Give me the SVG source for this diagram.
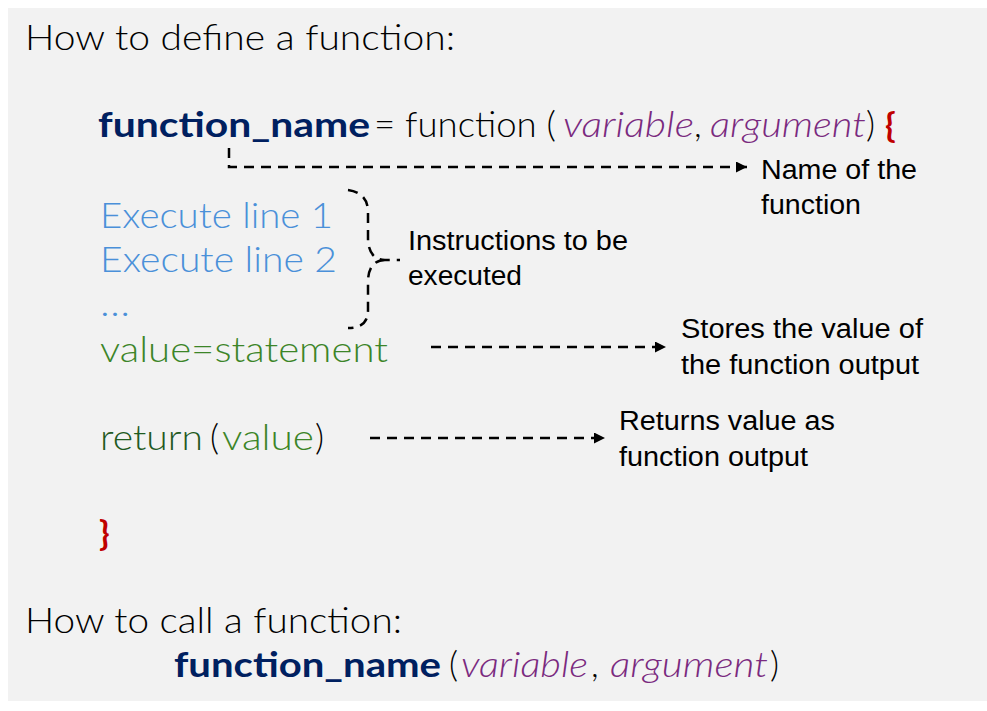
<svg xmlns="http://www.w3.org/2000/svg" width="987" height="711" viewBox="0 0 987 711">
<defs>
<marker id="arr" viewBox="0 0 10 10" refX="10" refY="5" markerWidth="12" markerHeight="11" markerUnits="userSpaceOnUse" orient="auto">
<path d="M0,0 L10,5 L0,10 Z" fill="#000"/>
</marker>
<style>
.code{font-family:Lato,"Open Sans","DejaVu Sans",sans-serif;font-size:35px;font-weight:300}
.head{font-family:Lato,"Open Sans","DejaVu Sans",sans-serif;font-size:36px;font-weight:300;fill:#000}
.bold{font-weight:700;fill:#002060}
.it{font-style:italic;fill:#7a2a7f}
.blue{fill:#4a90d9}
.green{fill:#3c8528}
.dgreen{fill:#1f5a1f}
.red{fill:#c00000;font-weight:700}
.lbl{font-family:"Liberation Sans",Arial,sans-serif;font-size:27px;fill:#000}
.dash{fill:none;stroke:#000;stroke-width:2.5;stroke-dasharray:10,7}
</style>
</defs>
<rect x="8" y="8" width="979" height="693" fill="#f2f2f2"/>

<g id="define-heading"><text class="head" x="25" y="50" textLength="430" lengthAdjust="spacingAndGlyphs">How to define a function:</text></g>

<g id="definition-line">
<text class="code bold" x="98" y="137" textLength="272" lengthAdjust="spacingAndGlyphs">function_name</text>
<text class="code" x="374" y="137" textLength="182" lengthAdjust="spacingAndGlyphs">= function (</text>
<text class="code it" x="563" y="137" textLength="131" lengthAdjust="spacingAndGlyphs">variable</text>
<text class="code" x="694" y="137">,</text>
<text class="code it" x="710" y="137" textLength="156" lengthAdjust="spacingAndGlyphs">argument</text>
<text class="code" x="866" y="137">)</text>
<text class="code red" x="885" y="137">{</text>
</g>

<g id="execute-lines">
<text class="code blue" x="100" y="228" textLength="233" lengthAdjust="spacingAndGlyphs">Execute line 1</text>
<text class="code blue" x="100" y="272" textLength="237" lengthAdjust="spacingAndGlyphs">Execute line 2</text>
<text class="code blue" x="100" y="316" textLength="30" lengthAdjust="spacingAndGlyphs">…</text>
</g>

<g id="value-line"><text class="code green" x="100" y="362" textLength="288" lengthAdjust="spacingAndGlyphs">value=statement</text></g>

<g id="return-line">
<text class="code dgreen" x="100" y="450" textLength="103" lengthAdjust="spacingAndGlyphs">return</text>
<text class="code" x="210" y="450">(</text>
<text class="code green" x="222" y="450" textLength="92" lengthAdjust="spacingAndGlyphs">value</text>
<text class="code" x="315" y="450">)</text>
</g>

<g id="close-brace"><text class="code red" x="99" y="545">}</text></g>

<g id="call-heading"><text class="head" x="25" y="633" textLength="377" lengthAdjust="spacingAndGlyphs">How to call a function:</text></g>

<g id="call-line">
<text class="code bold" x="174" y="677" textLength="267" lengthAdjust="spacingAndGlyphs">function_name</text>
<text class="code" x="449" y="677">(</text>
<text class="code it" x="461" y="677" textLength="127" lengthAdjust="spacingAndGlyphs">variable</text>
<text class="code" x="591" y="677">,</text>
<text class="code it" x="610" y="677" textLength="158" lengthAdjust="spacingAndGlyphs">argument</text>
<text class="code" x="770" y="677">)</text>
</g>

<g id="label-name"><text class="lbl" x="761" y="179" textLength="156" lengthAdjust="spacingAndGlyphs">Name of the</text><text class="lbl" x="761" y="214" textLength="100" lengthAdjust="spacingAndGlyphs">function</text></g>
<g id="label-instructions"><text class="lbl" x="408" y="250" textLength="220" lengthAdjust="spacingAndGlyphs">Instructions to be</text><text class="lbl" x="408" y="285" textLength="114" lengthAdjust="spacingAndGlyphs">executed</text></g>
<g id="label-stores"><text class="lbl" x="681" y="338" textLength="242" lengthAdjust="spacingAndGlyphs">Stores the value of</text><text class="lbl" x="681" y="374" textLength="238" lengthAdjust="spacingAndGlyphs">the function output</text></g>
<g id="label-returns"><text class="lbl" x="619" y="430" textLength="216" lengthAdjust="spacingAndGlyphs">Returns value as</text><text class="lbl" x="619" y="466" textLength="189" lengthAdjust="spacingAndGlyphs">function output</text></g>

<g id="connectors">
<path class="dash" d="M229,148 V167 H747" marker-end="url(#arr)"/>
<path class="dash" d="M348,190 C362,192 368,200 368,212 V238 C368,252 374,260 385,260 H400 M385,260 C374,260 368,268 368,282 V310 C368,322 362,328 348,328"/>
<path class="dash" d="M431,347 H666" marker-end="url(#arr)"/>
<path class="dash" d="M370,438 H605" marker-end="url(#arr)"/>
</g>
</svg>
